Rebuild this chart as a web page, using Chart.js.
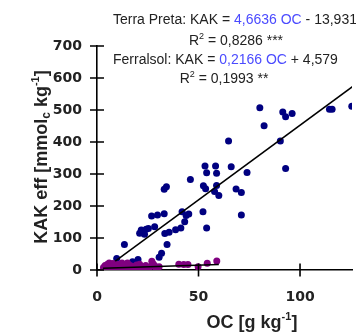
<!DOCTYPE html>
<html>
<head>
<meta charset="UTF-8">
<title>KAK eff vs OC</title>
<script src="https://cdn.jsdelivr.net/npm/chart.js@4.4.1/dist/chart.umd.min.js"></script>
<style>
    html, body { margin: 0; padding: 0; background: #fff; }
    #chartCanvas { display: block; }
</style>
</head>
<body>
<canvas id="chartCanvas" width="356" height="336"></canvas>
<script>

// Terra Preta samples
var tpOC  = [9.7, 13.5, 17.5, 20.2, 21.0, 21.8, 23.4, 24.2, 25.3, 26.9, 28.4, 29.8, 30.6, 31.8,
             33.1, 33.1, 34.5, 34.2, 33.4, 35.5, 38.7, 41.3, 41.9, 43.2, 43.9, 45.2, 46.0, 52.2,
             52.4, 53.2, 53.5, 54.0, 54.0, 57.9, 58.4, 58.9, 58.9, 60.0, 64.8, 66.1, 68.5, 71.1,
             71.1, 73.9, 80.2, 82.3, 90.3, 91.5, 92.9, 92.9, 96.1, 114.5, 115.8, 125.5];
var tpKAK = [36, 80, 26, 33, 115, 125, 112, 127, 130, 169, 135, 172, 40, 52,
             176, 252, 80, 260, 114, 118, 126, 131, 182, 151, 170, 175, 283, 182,
             263, 325, 254, 304, 131, 245, 325, 264, 302, 233, 403, 323, 253, 242,
             172, 305, 507, 451, 403, 494, 479, 317, 489, 502, 502, 512];

// Ferralsol samples
var fsOC  = [3.2, 3.5, 4.0, 4.5, 4.8, 5.2, 5.8, 6.0, 6.5, 7.0, 7.5, 7.8, 8.5, 9.0, 9.2, 10.0,
             10.5, 10.8, 11.5, 12.0, 12.3, 13.0, 13.8, 14.0, 14.5, 15.0, 15.5, 16.3, 17.0, 17.5,
             18.5, 19.0, 19.5, 20.5, 21.0, 21.5, 22.6, 23.5, 24.0, 25.0, 26.0, 27.0, 27.5, 28.2,
             29.0, 30.6, 40.3, 42.7, 44.8, 49.8, 54.3, 59.0];
var fsKAK = [8, 2, 14, 5, 10, 18, 10, 22, 4, 15, 3, 20, 8, 18, 12, 5,
             2, 17, 9, 14, 22, 6, 13, 3, 19, 22, 7, 14, 12, 4,
             10, 3, 16, 6, 18, 12, 4, 8, 14, 5, 9, 27, 20, 15,
             7, 10, 18, 17, 17, 10, 21, 28];

// regression lines: slope, intercept, drawn OC range
var tpFit = [4.6636, -13.931];
var tpFitRange = [9, 130];
var fsFit = [0.2166, 4.579];
var fsFitRange = [3, 60];

var xTicks = [0, 50, 100];
var yTicks = [0, 100, 200, 300, 400, 500, 600, 700];

var textCol = '#222222';
var blueText = '#4b4bff';

function toPoints(xs, ys) {
    return xs.map(function (v, i) { return {x: v, y: ys[i]}; });
}

function fitLine(fit, range) {
    return range.map(function (v) { return {x: v, y: fit[0] * v + fit[1]}; });
}

// draw a row of text pieces (text, font, color, dy)
function drawRuns(ctx, runs, x, y, align) {
    var w = 0;
    runs.forEach(function (r) { ctx.font = r[1]; w += ctx.measureText(r[0]).width; });
    var cx = align === 'center' ? x - w / 2 : x;
    runs.forEach(function (r) {
        ctx.font = r[1];
        ctx.fillStyle = r[2];
        ctx.fillText(r[0], cx, y + (r[3] || 0));
        cx += ctx.measureText(r[0]).width;
    });
}

var reg = '14px "Liberation Sans", Arial, sans-serif';
var sup = '9px "Liberation Sans", Arial, sans-serif';
var bold = 'bold 18px "Liberation Sans", Arial, sans-serif';
var boldSmall = 'bold 11px "Liberation Sans", Arial, sans-serif';

// cross ticks, axis titles and the equations
var extras = {
    id: 'extras',
    afterDraw: function (chart) {
        var ctx = chart.ctx;
        var xs = chart.scales.x, ys = chart.scales.y;
        ctx.save();
        ctx.strokeStyle = '#000';
        ctx.lineWidth = 1.6;
        ctx.beginPath();
        ys.ticks.forEach(function (t) {
            var py = ys.getPixelForValue(t.value);
            ctx.moveTo(xs.left - 7, py);
            ctx.lineTo(xs.left + 7, py);
        });
        xs.ticks.forEach(function (t) {
            var px = xs.getPixelForValue(t.value);
            ctx.moveTo(px, ys.bottom - 6.5);
            ctx.lineTo(px, ys.bottom + 6.5);
        });
        ctx.stroke();

        ctx.textBaseline = 'alphabetic';
        ctx.textAlign = 'left';

        // x title
        drawRuns(ctx, [['OC [g kg', bold, textCol], ['-1', boldSmall, textCol, -8], [']', bold, textCol]],
                 252, 328, 'center');

        // y title
        ctx.save();
        ctx.translate(47, 157);
        ctx.rotate(-Math.PI / 2);
        drawRuns(ctx, [['KAK eff [mmol', bold, textCol], ['c', 'bold 12px "Liberation Sans", Arial, sans-serif', textCol, 3],
                       [' kg', bold, textCol], ['-1', boldSmall, textCol, -8], [']', bold, textCol]],
                 0, 0, 'center');
        ctx.restore();

        // equations
        drawRuns(ctx, [['Terra Preta: KAK = ', reg, textCol], ['4,6636 OC', reg, blueText], [' - 13,931', reg, textCol]],
                 113, 24, 'left');
        drawRuns(ctx, [['R', reg, textCol], ['2', sup, textCol, -6], [' = 0,8286 ***', reg, textCol]],
                 236, 45, 'center');
        drawRuns(ctx, [['Ferralsol: KAK = ', reg, textCol], ['0,2166 OC', reg, blueText], [' + 4,579', reg, textCol]],
                 113, 64, 'left');
        drawRuns(ctx, [['R', reg, textCol], ['2', sup, textCol, -6], [' = 0,1993 **', reg, textCol]],
                 224, 83, 'center');
        ctx.restore();
    }
};

var tickFont = {family: '"DejaVu Sans", sans-serif', size: 14, weight: 'bold'};

var myChart = new Chart(document.getElementById('chartCanvas'), {
    type: 'scatter',
    data: {
        datasets: [
            {
                label: 'Terra Preta fit',
                data: fitLine(tpFit, tpFitRange),
                showLine: true,
                borderColor: '#000',
                borderWidth: 1.5,
                pointRadius: 0,
                order: 0
            },
            {
                label: 'Ferralsol fit',
                data: fitLine(fsFit, fsFitRange),
                showLine: true,
                borderColor: '#000',
                borderWidth: 1.5,
                pointRadius: 0,
                order: 0
            },
            {
                label: 'Ferralsol',
                data: toPoints(fsOC, fsKAK),
                backgroundColor: '#800080',
                borderWidth: 0,
                pointRadius: 3.5,
                order: 1
            },
            {
                label: 'Terra Preta',
                data: toPoints(tpOC, tpKAK),
                backgroundColor: '#000080',
                borderWidth: 0,
                pointRadius: 3.5,
                order: 2
            }
        ]
    },
    options: {
        responsive: false,
        animation: false,
        layout: { padding: {top: 46, right: 0, bottom: 0, left: 0} },
        plugins: {
            legend: { display: false },
            tooltip: { enabled: false }
        },
        scales: {
            x: {
                type: 'linear',
                min: 0,
                max: 125.6,
                afterBuildTicks: function (s) { s.ticks = xTicks.map(function (v) { return {value: v}; }); },
                afterFit: function (s) { s.height = 66; },
                grid: { display: false, drawTicks: false },
                border: { display: true, color: '#000', width: 1.6 },
                ticks: { font: tickFont, color: textCol, padding: 19, maxRotation: 0 }
            },
            y: {
                type: 'linear',
                min: 0,
                max: 700,
                afterBuildTicks: function (s) { s.ticks = yTicks.map(function (v) { return {value: v}; }); },
                afterFit: function (s) { s.width = 97; },
                grid: { display: false, drawTicks: false },
                border: { display: true, color: '#000', width: 1.6 },
                ticks: { font: tickFont, color: textCol, padding: 15 }
            }
        }
    },
    plugins: [extras]
});

</script>
</body>
</html>
